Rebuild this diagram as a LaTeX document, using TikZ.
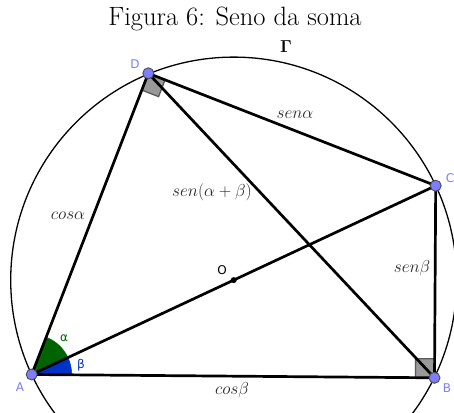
\documentclass[tikz,border=0pt]{standalone}
\usepackage[no-math]{fontspec}
\newfontfamily\lblfont{DejaVu Sans}
\usetikzlibrary{calc,angles}
\definecolor{ptblue}{RGB}{125,125,255}
\definecolor{agreen}{RGB}{0,100,0}
\definecolor{ablue}{RGB}{0,50,200}
\definecolor{sqgray}{RGB}{153,153,153}
\tikzset{
  seg/.style={line width=2.7pt, line cap=round},
  circ/.style={line width=1.3pt},
  pt/.style={circle, fill=ptblue, draw=black!70, line width=0.9pt, inner sep=0pt, minimum size=11pt},
  ptlbl/.style={text=ptblue, font=\lblfont\fontsize{12}{14}\selectfont, inner sep=0pt},
  mlbl/.style={text=black!85, font=\fontsize{16.5}{19}\selectfont, inner sep=0pt},
  rsq/.style={fill=sqgray, draw=black!65, line width=1.3pt},
}
\begin{document}
\begin{tikzpicture}[x=1pt,y=-1pt]
\useasboundingbox (0,0) rectangle (454,412);
\clip (0,0) rectangle (454,412);
% points
\coordinate (A) at (31.7,374.5);
\coordinate (B) at (434.5,377.8);
\coordinate (C) at (435.7,185.7);
\coordinate (D) at (148.3,73.3);
\coordinate (O) at (233.7,280.1);
% title
\node[font=\fontsize{26.5}{30}\selectfont, inner sep=0pt] (title) at (235,19) {Figura 6: Seno da soma};
% circle
\draw[circ] (O) circle[radius=223];
\node[font=\fontsize{16}{18}\selectfont, inner sep=0pt] (gam) at (286,47) {$\mathbf{\Gamma}$};
% angle sectors
\pic[fill=ablue, draw=ablue, line width=0.5pt, angle radius=40pt] {angle=B--A--C};
\pic[fill=agreen, draw=agreen, line width=0.5pt, angle radius=40pt] {angle=C--A--D};
% right angle squares
\coordinate (DA) at ($(D)!18pt!(A)$);
\coordinate (DC) at ($(D)!18pt!(C)$);
\coordinate (DX) at ($(DA)+(DC)-(D)$);
\draw[rsq] (D) -- (DA) -- (DX) -- (DC) -- cycle;
\coordinate (BA) at ($(B)!19pt!(A)$);
\coordinate (BC) at ($(B)!19pt!(C)$);
\coordinate (BX) at ($(BA)+(BC)-(B)$);
\draw[rsq] (B) -- (BA) -- (BX) -- (BC) -- cycle;
% segments
\draw[seg] (A) -- (D);
\draw[seg] (D) -- (C);
\draw[seg] (D) -- (B);
\draw[seg] (A) -- (C);
\draw[seg] (C) -- (B);
\draw[seg] (A) -- (B);
% point markers
\node[circle, fill=black, inner sep=0pt, minimum size=6pt] (Odot) at (O) {};
\node[pt] (Ap) at (A) {};
\node[pt] (Bp) at (B) {};
\node[pt] (Cp) at (C) {};
\node[pt] (Dp) at (D) {};
% point labels
\node[ptlbl] (Al) at (20,387) {A};
\node[ptlbl] (Bl) at (447,388) {B};
\node[ptlbl] (Cl) at (450,178) {C};
\node[ptlbl] (Dl) at (135,64) {D};
\node[ptlbl, text=black] (Ol) at (222,270) {O};
% angle labels
\node[font=\lblfont\fontsize{12}{14}\selectfont, text=agreen, inner sep=0pt] (al) at (64,338) {α};
\node[font=\lblfont\fontsize{12}{14}\selectfont, text=ablue, inner sep=0pt] (bl) at (81,365) {β};
% length labels
\node[mlbl] (l1) at (295,115) {$sen\alpha$};
\node[mlbl] (l2) at (212,192) {$sen(\alpha+\beta)$};
\node[mlbl] (l3) at (68,216) {$cos\alpha$};
\node[mlbl] (l4) at (412,268) {$sen\beta$};
\node[mlbl] (l5) at (232,390) {$cos\beta$};
\end{tikzpicture}
\end{document}
